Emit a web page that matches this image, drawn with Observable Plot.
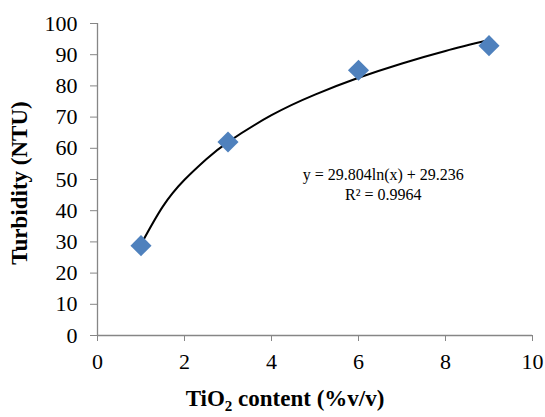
<!DOCTYPE html>
<html>
<head>
<meta charset="utf-8">
<script src="https://cdn.jsdelivr.net/npm/d3@7"></script>
<script src="https://cdn.jsdelivr.net/npm/@observablehq/plot@0.6"></script>
<style>
  html, body { margin: 0; padding: 0; background: #fff; }
  svg { display: block; }
  svg text { font-family: "Liberation Serif", "Times New Roman", Tinos, serif !important; }
</style>
</head>
<body>
<div id="chart"></div>
<script>
// Measured data
const tio2 = [1, 3, 6, 9];
const turbidity = [28.8, 62.0, 85.0, 92.9];

// Trend line
const trendX = [1, 1.5, 2, 2.5, 3, 4, 5, 6, 7, 8, 9];
const trendY = [29.2, 41.3, 49.9, 56.5, 62.0, 70.6, 77.2, 82.6, 87.2, 91.2, 94.7];

const xTicks = [0, 2, 4, 6, 8, 10];
const yTicks = [0, 10, 20, 30, 40, 50, 60, 70, 80, 90, 100];

const equationText = "y = 29.804ln(x) + 29.236";
const r2Text = "R² = 0.9964";

const points = tio2.map((x, i) => ({x, y: turbidity[i]}));
const trend = trendX.map((x, i) => ({x, y: trendY[i]}));

const axisColor = "#868686";
const serif = "Liberation Serif, Times New Roman, serif";

const chart = Plot.plot({
  width: 545,
  height: 417,
  marginLeft: 97,
  marginRight: 13,
  marginTop: 23,
  marginBottom: 82,
  style: {fontFamily: serif, fontSize: "22px", color: "#000", background: "#fff"},
  x: {domain: [0, 10], ticks: xTicks, label: null},
  y: {domain: [0, 100], ticks: yTicks, label: null},
  marks: [
    Plot.ruleY([0], {stroke: axisColor, strokeWidth: 1.3}),
    Plot.ruleX([0], {stroke: axisColor, strokeWidth: 1.3}),
    Plot.axisX({ticks: xTicks, tickSize: 6, text: null, stroke: axisColor}),
    Plot.axisY({ticks: yTicks, tickSize: 7, text: null, stroke: axisColor}),
    Plot.text(xTicks, {x: d => d, y: 0, text: d => String(d), dy: 26, fontSize: 22, fill: "#000", textAnchor: "middle"}),
    Plot.text(yTicks, {x: 0, y: d => d, text: d => String(d), dx: -20, fontSize: 22, fill: "#000", textAnchor: "end"}),
    Plot.line(trend, {x: "x", y: "y", stroke: "#000", strokeWidth: 2, curve: "natural"}),
    Plot.dot(points, {x: "x", y: "y", symbol: "diamond2", r: 9.5, fill: "#4F81BD", stroke: "none"}),
    Plot.text([equationText], {x: 6.57, y: 51.5, text: d => d, fontSize: 16, fill: "#000", textAnchor: "middle"}),
    Plot.text([r2Text], {x: 6.57, y: 45, text: d => d, fontSize: 16, fill: "#000", textAnchor: "middle"})
  ]
});

const svg = d3.select(chart);
// Y axis title
svg.append("text")
  .attr("transform", "translate(27,183) rotate(-90)")
  .attr("text-anchor", "middle")
  .attr("font-weight", "bold")
  .attr("font-size", 23)
  .attr("fill", "#000")
  .text("Turbidity (NTU)");
// X axis title with subscript
const xt = svg.append("text")
  .attr("x", 285)
  .attr("y", 406)
  .attr("text-anchor", "middle")
  .attr("font-weight", "bold")
  .attr("font-size", 23)
  .attr("fill", "#000");
xt.append("tspan").text("TiO");
xt.append("tspan").attr("dy", 5).attr("font-size", 15).text("2");
xt.append("tspan").attr("dy", -5).text(" content (%v/v)");

document.getElementById("chart").appendChild(chart);
</script>
</body>
</html>
